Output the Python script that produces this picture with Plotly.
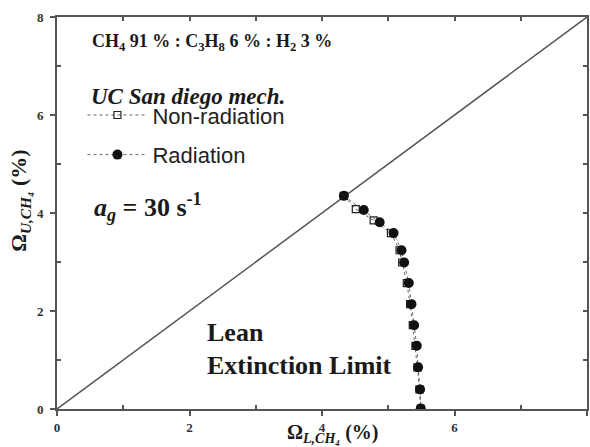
import plotly.graph_objects as go

# Data
diag_x = [0, 8]
diag_y = [0, 8]

nonrad_x = [4.33, 4.51, 4.78, 5.04, 5.17, 5.21, 5.28, 5.33, 5.37, 5.41, 5.44, 5.47, 5.49]
nonrad_y = [4.35, 4.08, 3.85, 3.59, 3.24, 2.99, 2.57, 2.14, 1.71, 1.29, 0.85, 0.40, 0.01]

rad_x = [4.33, 4.63, 4.87, 5.08, 5.20, 5.24, 5.31, 5.35, 5.39, 5.43, 5.45, 5.48, 5.49]
rad_y = [4.35, 4.06, 3.81, 3.59, 3.24, 2.99, 2.57, 2.14, 1.71, 1.29, 0.85, 0.40, 0.01]

tick_vals = [0, 2, 4, 6, 8]
tick_text = ["0", "2", "4", "6", "8"]

SERIF = "Liberation Serif"
SANS = "Liberation Sans"
AX = "#555555"
TXT = "#1a1a1a"

fig = go.Figure()

fig.add_trace(go.Scatter(x=diag_x, y=diag_y, mode="lines",
                         line=dict(color="#555555", width=1.5),
                         showlegend=False, hoverinfo="skip"))

fig.add_trace(go.Scatter(x=nonrad_x, y=nonrad_y, mode="lines+markers",
                         name="Non-radiation", legendgroup="a",
                         line=dict(color="#666666", width=1, dash="dot"),
                         marker=dict(symbol="square-open", size=7, color="#222222",
                                     line=dict(width=1.2, color="#222222"))))

fig.add_trace(go.Scatter(x=rad_x, y=rad_y, mode="lines+markers",
                         name="Radiation", legendgroup="b",
                         line=dict(color="#666666", width=1, dash="dot"),
                         marker=dict(symbol="circle", size=10, color="#111111")))

# invisible trace to host the mirrored (top/right) axes
fig.add_trace(go.Scatter(x=diag_x, y=diag_y, xaxis="x2", yaxis="y2", mode="markers",
                         marker=dict(opacity=0), showlegend=False, hoverinfo="skip"))

common = dict(range=[0, 8], showgrid=False, zeroline=False, showline=True,
              linecolor=AX, linewidth=2)

fig.update_layout(
    width=590, height=447,
    margin=dict(l=57, r=3, t=17, b=38),
    paper_bgcolor="white", plot_bgcolor="white",
    xaxis=dict(**common, tickvals=tick_vals, ticktext=tick_text,
               ticks="outside", ticklen=5, tickwidth=1.5, tickcolor=AX,
               minor=dict(tickvals=[1, 3, 5, 7], ticks="inside", ticklen=4,
                          tickwidth=1.5, tickcolor=AX),
               tickfont=dict(family=SERIF, size=13, color="#333333", weight="bold")),
    yaxis=dict(**common, tickvals=tick_vals, ticktext=tick_text,
               ticks="outside", ticklen=5, tickwidth=1.5, tickcolor=AX,
               ticklabelstandoff=4,
               minor=dict(tickvals=[1, 3, 5, 7], ticks="inside", ticklen=4,
                          tickwidth=1.5, tickcolor=AX),
               tickfont=dict(family=SERIF, size=13, color="#333333", weight="bold")),
    xaxis2=dict(**common, overlaying="x", side="top", anchor="y2",
                tickvals=[1, 2, 3, 4, 5, 6, 7], ticks="inside", ticklen=4,
                tickwidth=1.5, tickcolor=AX, showticklabels=False),
    yaxis2=dict(**common, overlaying="y", side="right", anchor="x2",
                tickvals=[1, 2, 3, 4, 5, 6, 7], ticks="inside", ticklen=4,
                tickwidth=1.5, tickcolor=AX, showticklabels=False),
    legend=dict(x=0.048, y=0.803, xanchor="left", yanchor="top",
                bgcolor="rgba(0,0,0,0)", tracegroupgap=8, itemwidth=60,
                font=dict(family=SANS, size=22, color="#222222")),
    showlegend=True,
)

# axis titles
fig.add_annotation(xref="paper", yref="paper", x=0.520, y=-0.063, xanchor="center", yanchor="middle",
                   showarrow=False, text="Ω<sub><i>L,CH₄</i></sub> (%)",
                   font=dict(family=SERIF, size=20, color=TXT, weight="bold"))
fig.add_annotation(xref="paper", yref="paper", x=-0.070, y=0.531, xanchor="center", yanchor="middle",
                   showarrow=False, textangle=-90, text="Ω<sub><i>U,CH₄</i></sub> (%)",
                   font=dict(family=SERIF, size=22, color=TXT, weight="bold"))

fig.add_annotation(xref="paper", yref="paper", x=0.062, y=0.934, xanchor="left", yanchor="middle",
                   showarrow=False,
                   text="CH<sub>4</sub> 91 % : C<sub>3</sub>H<sub>8</sub> 6 % : H<sub>2</sub> 3 %",
                   font=dict(family=SERIF, size=18, color=TXT, weight="bold"))
fig.add_annotation(xref="paper", yref="paper", x=0.060, y=0.796, xanchor="left", yanchor="middle",
                   showarrow=False, text="<i>UC San diego mech.</i>",
                   font=dict(family=SERIF, size=23, color=TXT, weight="bold"))
fig.add_annotation(xref="paper", yref="paper", x=0.066, y=0.515, xanchor="left", yanchor="middle",
                   showarrow=False, text="<i>a<sub>g</sub></i> = 30 s<sup>-1</sup>",
                   font=dict(family=SERIF, size=26, color=TXT, weight="bold"))
fig.add_annotation(xref="paper", yref="paper", x=0.279, y=0.196, xanchor="left", yanchor="middle",
                   showarrow=False, text="Lean",
                   font=dict(family=SERIF, size=26, color=TXT, weight="bold"))
fig.add_annotation(xref="paper", yref="paper", x=0.279, y=0.112, xanchor="left", yanchor="middle",
                   showarrow=False, text="Extinction Limit",
                   font=dict(family=SERIF, size=26, color=TXT, weight="bold"))

fig.write_html("out.html")
